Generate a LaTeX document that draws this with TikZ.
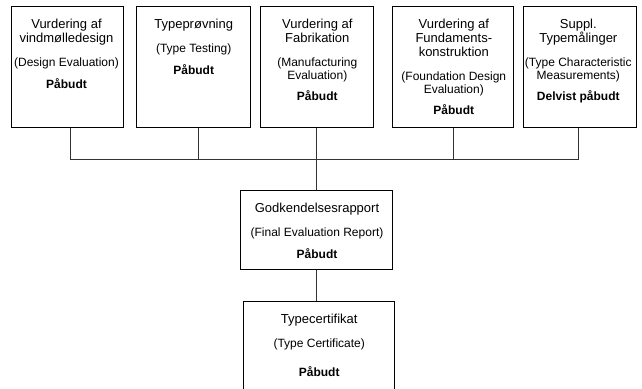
\documentclass[tikz,border=0pt]{standalone}
\usepackage{fontspec}
\setmainfont{Liberation Sans}
\usetikzlibrary{positioning}
\tikzset{
	box/.style={draw=black,line width=1pt,inner sep=0pt},
	txt/.style={align=center,inner sep=0pt,anchor=north,font=\fontsize{13}{14}\selectfont},
	wire/.style={draw=black!80,line width=1pt}
}
\newcommand{\engl}[1]{{\fontsize{12}{12.5}\selectfont #1}}
\newcommand{\krav}[1]{{\fontsize{12}{14}\selectfont\bfseries #1}}

\begin{document}
\begin{tikzpicture}[x=1pt,y=-1pt]
		\useasboundingbox (0,0) rectangle (642,388);
		\clip (0,0) rectangle (642,388);

		% top row of evaluations
		\node[box,minimum width=112.3pt,minimum height=121pt] (design) at (67.2,66.8) {};
		\node[box,minimum width=114pt,minimum height=121pt] (typetest) at (193.7,66.8) {};
		\node[box,minimum width=113.3pt,minimum height=121pt] (fabrik) at (317.3,66.8) {};
		\node[box,minimum width=121.3pt,minimum height=121pt] (found) at (453.3,66.8) {};
		\node[box,minimum width=113.4pt,minimum height=121pt] (suppl) at (580,66.8) {};

		\node[txt] (design-txt) at (66.5,19) {Vurdering af\\vindmølledesign\\[10pt]
			\engl{(Design Evaluation)}\\[7.5pt]\krav{Påbudt}};
		\node[txt] (typetest-txt) at (193.7,19) {Typeprøvning\\[10pt]
			\engl{(Type Testing)}\\[7.5pt]\krav{Påbudt}};
		\node[txt] (fabrik-txt) at (317.3,19) {Vurdering af\\Fabrikation\\[10pt]
			\engl{(Manufacturing}\\[-1.5pt]\engl{Evaluation)}\\[7.5pt]\krav{Påbudt}};
		\node[txt] (found-txt) at (453.8,19) {Vurdering af\\Fundaments-\\konstruktion\\[10pt]
			\engl{(Foundation Design}\\[-1.5pt]\engl{Evaluation)}\\[7.5pt]\krav{Påbudt}};
		\node[txt] (suppl-txt) at (578.3,19) {Suppl.\\Typemålinger\\[10pt]
			\engl{(Type Characteristic}\\[-1.5pt]\engl{Measurements)}\\[7.5pt]\krav{Delvist påbudt}};

		% final report and certificate
		\node[box,minimum width=151.7pt,minimum height=79.3pt] (report) at (316.8,230.3) {};
		\node[box,minimum width=151.3pt,minimum height=118.3pt] (cert) at (319.3,360.8) {};

		\node[txt] (report-txt) at (317,203) {Godkendelsesrapport\\[10pt]
			\engl{(Final Evaluation Report)}\\[7.5pt]\krav{Påbudt}};
		\node[txt] (cert-txt) at (319.2,314) {Typecertifikat\\[10pt]
			\engl{(Type Certificate)}\\[15pt]\krav{Påbudt}};

		% bus line
		\coordinate (hub) at (317,159);
		\draw[wire] ([xshift=2.8pt]design.south) |- ([xshift=-2pt]suppl.south |- hub) -- ([xshift=-2pt]suppl.south);
		\draw[wire] ([xshift=4.3pt]typetest.south) -- ([xshift=4.3pt]typetest.south |- hub);
		\draw[wire] (found.south) -- (found.south |- hub);

		% down to report and certificate
		\draw[wire] (report.north |- fabrik.south) -- (report.north);
		\draw[wire] (report.south) -- (report.south |- cert.north);

	\end{tikzpicture}
\end{document}
